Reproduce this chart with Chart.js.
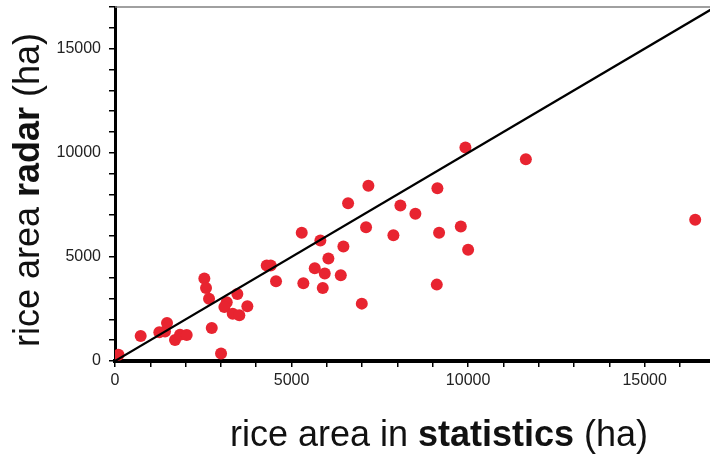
<!DOCTYPE html>
<html>
<head>
<meta charset="utf-8">
<script src="https://cdn.jsdelivr.net/npm/chart.js@4"></script>
<style>
html,body{margin:0;padding:0;background:#fff}
#wrap{width:710px;height:458px;position:relative}
</style>
</head>
<body>
<div id="wrap"><canvas id="rice_chart"></canvas></div>
<script>
// statistics area (ha) vs radar area (ha)
var statArea = [100,727,1255,1416,1473,1700,1841,2031,2530,2578,2663,2740,3003,3164,3097,3465,3334,3521,3748,4297,4410,4560,5288,5816,6468,6043,5657,5940,6394,5334,5884,6989,6601,7176,7110,9924,9130,8082,8507,7884,9178,9793,10000,9113,11635,16431]
var radarArea = [300,1200,1375,1420,1827,1010,1264,1250,3957,3510,2995,1590,365,2817,2596,3221,2274,2192,2625,4582,4582,3827,6154,5784,5495,4918,4452,4197,4115,3731,3510,2755,7577,8413,6423,10255,8298,7466,7067,6038,6154,6457,5337,3668,9692,6779]
var lineEnds = [0,17000]
var tickValues = [0,1000,2000,3000,4000,5000,6000,7000,8000,9000,10000,11000,12000,13000,14000,15000,16000,17000]
var xTitle = [['rice area in ',''],['statistics','bold'],[' (ha)','']]
var yTitle = [['rice area ',''],['radar','bold'],[' (ha)','']]

var points = []
for(var i=0;i<statArea.length;i++){
    points.push({x:statArea[i],y:radarArea[i]})
}
var oneToOne = lineEnds.map(function(v){return {x:v,y:v}})

var fam = '"Liberation Sans", Arial, sans-serif'

// draws a title made of regular + bold pieces
function drawMixed(ctx,parts,size){
    var total = 0
    parts.forEach(function(p){
        ctx.font = p[1]+' '+size+'px '+fam
        total += ctx.measureText(p[0]).width
    })
    var x = -total/2
    parts.forEach(function(p){
        ctx.font = p[1]+' '+size+'px '+fam
        ctx.fillText(p[0],x,0)
        x += ctx.measureText(p[0]).width
    })
}

var titles = {
    id:'titles',
    afterDraw:function(chart){
        var ctx = chart.ctx
        var a = chart.chartArea
        ctx.save()
        // thin frame line on top
        ctx.strokeStyle = '#808080'
        ctx.lineWidth = 1.5
        ctx.beginPath()
        ctx.moveTo(a.left,a.top)
        ctx.lineTo(a.right,a.top)
        ctx.stroke()
        ctx.fillStyle = '#111'
        ctx.textBaseline = 'middle'
        ctx.textAlign = 'left'
        ctx.save()
        ctx.translate(439,436)
        drawMixed(ctx,xTitle,36)
        ctx.restore()
        ctx.save()
        ctx.translate(29,190)
        ctx.rotate(-Math.PI/2)
        drawMixed(ctx,yTitle,36)
        ctx.restore()
        ctx.restore()
    }
}

function bigLabel(v){
    return v%5000==0 ? String(v) : ''
}
function setTicks(s){
    s.ticks = tickValues.filter(function(v){return v<=s.max}).map(function(v){return {value:v}})
}

var ctx = document.getElementById('rice_chart').getContext('2d')
var chart1 = new Chart(ctx,{
    type:'scatter',
    plugins:[titles],
    data:{
        datasets:[{
            label:'districts',
            data:points,
            backgroundColor:'rgb(232,36,48)',
            borderWidth:0,
            pointRadius:6,
            order:2
        },{
            type:'line',
            label:'1:1',
            data:oneToOne,
            borderColor:'#000',
            borderWidth:2.2,
            pointRadius:0,
            fill:false,
            order:1
        }]
    },
    options:{
        responsive:true,
        maintainAspectRatio:false,
        animation:false,
        layout:{autoPadding:false,padding:{top:7,right:0,left:0,bottom:0}},
        plugins:{
            legend:{display:false},
            tooltip:{enabled:false}
        },
        scales:{
            x:{
                type:'linear',
                min:0,
                max:16850,
                afterBuildTicks:setTicks,
                afterFit:function(s){ s.height = 97; s.paddingLeft = 0; s.paddingRight = 0 },
                border:{display:true,color:'#000',width:4},
                grid:{drawOnChartArea:false,drawTicks:true,tickLength:6,color:'#000',lineWidth:1.5},
                ticks:{
                    autoSkip:false,
                    maxRotation:0,
                    color:'#222',
                    padding:4,
                    font:{family:fam,size:16},
                    callback:bigLabel
                }
            },
            y:{
                type:'linear',
                min:0,
                max:17000,
                afterBuildTicks:setTicks,
                afterFit:function(s){ s.width = 115; s.paddingTop = 0; s.paddingBottom = 0 },
                border:{display:true,color:'#000',width:3},
                grid:{drawOnChartArea:false,drawTicks:true,tickLength:6,color:'#000',lineWidth:1.5},
                ticks:{
                    autoSkip:false,
                    color:'#222',
                    padding:8,
                    font:{family:fam,size:16},
                    callback:bigLabel
                }
            }
        }
    }
})
</script>
</body>
</html>
